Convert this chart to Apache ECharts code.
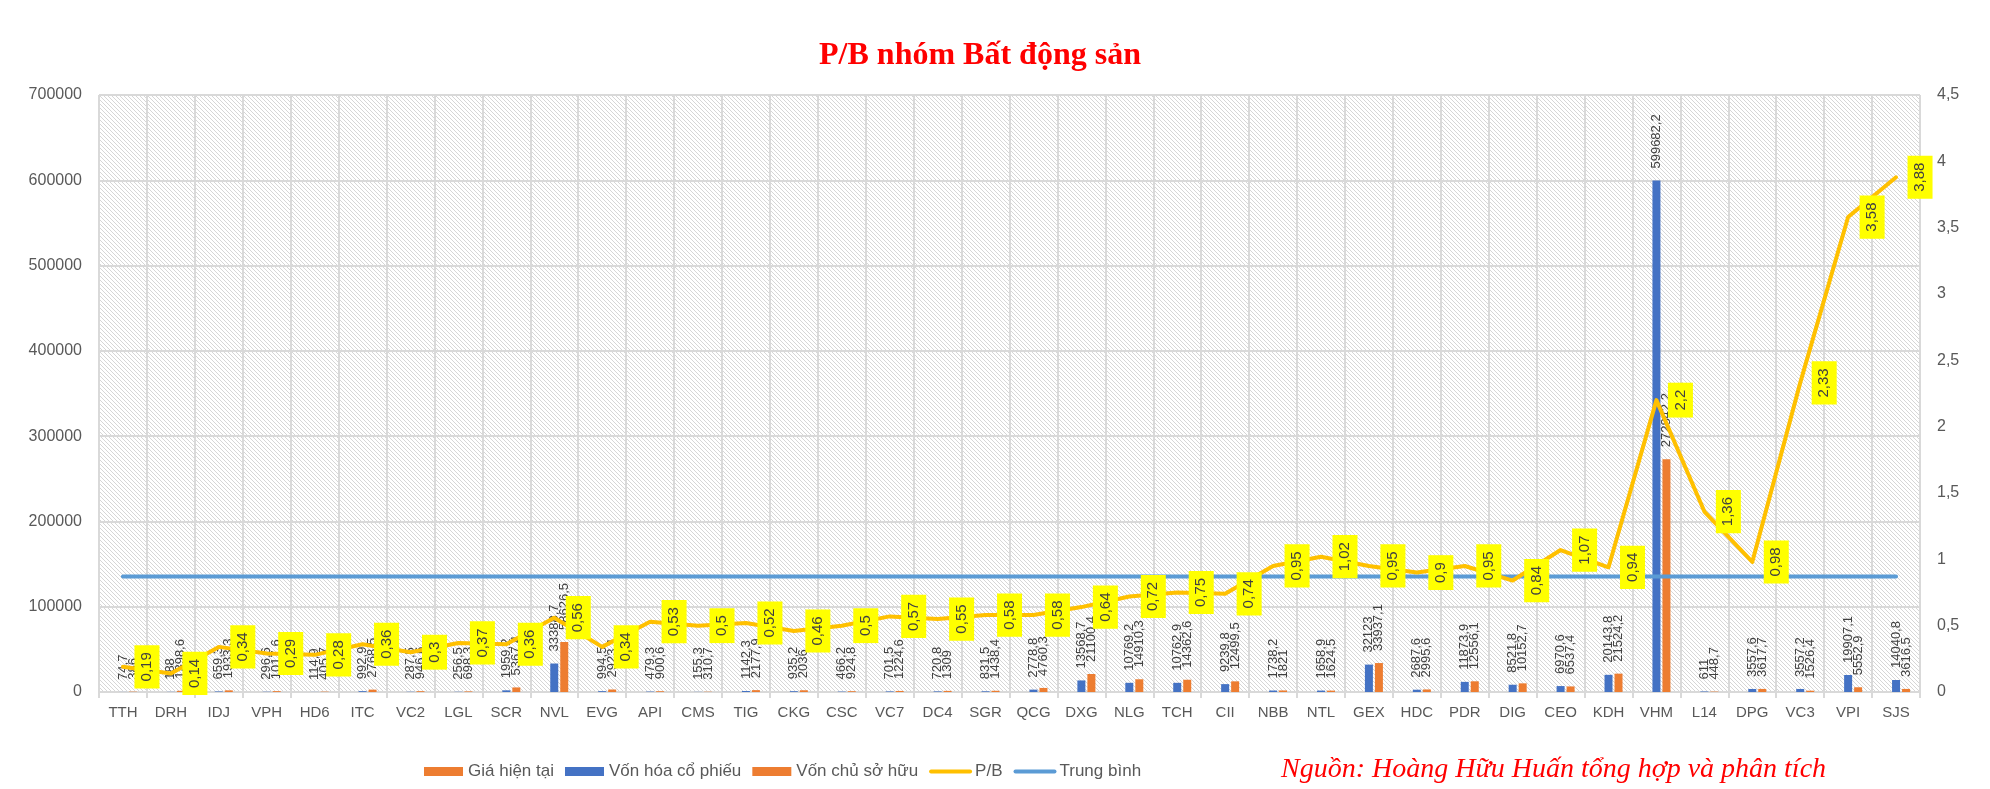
<!DOCTYPE html>
<html>
<head>
<meta charset="utf-8">
<title>P/B nhóm Bất động sản</title>
<script src="https://cdn.jsdelivr.net/npm/echarts@6/dist/echarts.min.js"></script>
<style>
  html, body { margin: 0; padding: 0; background: #fff; }
  #chart { width: 1990px; height: 789px; }
</style>
</head>
<body>
<div id="chart"></div>
<script>
const categories = [
  "TTH", "DRH", "IDJ", "VPH", "HD6", "ITC", "VC2", "LGL", "SCR", "NVL",
  "EVG", "API", "CMS", "TIG", "CKG", "CSC", "VC7", "DC4", "SGR", "QCG",
  "DXG", "NLG", "TCH", "CII", "NBB", "NTL", "GEX", "HDC", "PDR", "DIG",
  "CEO", "KDH", "VHM", "L14", "DPG", "VC3", "VPI", "SJS",
];

// Giá hiện tại: too small to read on the chart
const giaHienTai = [];

const vonHoa = [
  74.7, 188, 659.3, 296.6, 114.9, 992.9, 287.5, 256.5, 1959.2, 33388.7,
  994.5, 479.3, 155.3, 1142.3, 935.2, 466.2, 701.5, 720.8, 831.5, 2778.8,
  13568.7, 10769.2, 10762.9, 9239.8, 1738.2, 1658.9, 32123, 2687.6, 11873.9, 8521.8,
  6970.6, 20143.8, 599682.2, 611, 3557.6, 3557.2, 19907.1, 14040.8,
];

const vonChuSoHuu = [
  386, 1398.6, 1933.3, 1017.6, 405.7, 2768.5, 946.6, 698.3, 5367.4, 58626.5,
  2923.1, 900.6, 310.7, 2177.9, 2036, 924.8, 1224.6, 1309, 1438.4, 4760.3,
  21100.4, 14910.3, 14362.6, 12499.5, 1821, 1624.5, 33937.1, 2995.6, 12556.1, 10152.7,
  6537.4, 21524.2, 272842.2, 448.7, 3617.7, 1526.4, 5552.9, 3616.5,
];

const pb = [
  0.19, 0.14, 0.34, 0.29, 0.28, 0.36, 0.3, 0.37, 0.36, 0.56,
  0.34, 0.53, 0.5, 0.52, 0.46, 0.5, 0.57, 0.55, 0.58, 0.58,
  0.64, 0.72, 0.75, 0.74, 0.95, 1.02, 0.95, 0.9, 0.95, 0.84,
  1.07, 0.94, 2.2, 1.36, 0.98, 2.33, 3.58, 3.88,
];

const trungBinh = [
  0.87, 0.87, 0.87, 0.87, 0.87, 0.87, 0.87, 0.87, 0.87, 0.87,
  0.87, 0.87, 0.87, 0.87, 0.87, 0.87, 0.87, 0.87, 0.87, 0.87,
  0.87, 0.87, 0.87, 0.87, 0.87, 0.87, 0.87, 0.87, 0.87, 0.87,
  0.87, 0.87, 0.87, 0.87, 0.87, 0.87, 0.87, 0.87,
];

const textColor = "#595959";
const gridColor = "#d9d9d9";
const sans = "'Liberation Sans', Arial, sans-serif";
const serif = "'Liberation Serif', 'Times New Roman', serif";

const comma = (value) => String(value).replace(".", ",");

function hatchPattern() {
  const tile = document.createElement("canvas");
  tile.width = 4;
  tile.height = 4;
  const ctx = tile.getContext("2d");
  ctx.fillStyle = "#ffffff";
  ctx.fillRect(0, 0, 4, 4);
  ctx.fillStyle = "#d6d6d6";
  for (let i = 0; i < 4; i++) {
    ctx.fillRect(i, i, 1, 1);
  }
  return { image: tile, repeat: "repeat" };
}

const barLabel = {
  show: true,
  position: "top",
  distance: 12,
  rotate: 90,
  align: "left",
  verticalAlign: "middle",
  color: "#404040",
  fontSize: 13,
  fontFamily: sans,
  formatter: ({ value }) => comma(value),
};

const chart = echarts.init(document.getElementById("chart"), null, { renderer: "canvas" });

chart.setOption({
  animation: false,
  textStyle: { fontFamily: sans },
  title: [
    {
      text: "P/B nhóm Bất động sản",
      left: 975,
      top: 35,
      textAlign: "center",
      textStyle: { color: "#ff0000", fontFamily: serif, fontWeight: "bold", fontSize: 32 },
    },
    {
      text: "Nguồn: Hoàng Hữu Huấn tổng hợp và phân tích",
      left: 1276,
      top: 751,
      textStyle: { color: "#ff0000", fontFamily: serif, fontStyle: "italic", fontWeight: "normal", fontSize: 28 },
    },
  ],
  legend: {
    left: 419,
    top: 758,
    itemWidth: 39,
    itemHeight: 9,
    itemGap: 11,
    textStyle: { color: textColor, fontSize: 17, fontFamily: sans },
    data: [
      { name: "Giá hiện tại", icon: "rect" },
      { name: "Vốn hóa cổ phiếu", icon: "rect" },
      { name: "Vốn chủ sở hữu", icon: "rect" },
      { name: "P/B", itemStyle: { opacity: 0 }, lineStyle: { width: 4, cap: "round" } },
      { name: "Trung bình", itemStyle: { opacity: 0 }, lineStyle: { width: 4, cap: "round" } },
    ],
  },
  grid: {
    left: 99,
    right: 70,
    top: 95,
    bottom: 97,
    show: true,
    borderWidth: 0,
    backgroundColor: hatchPattern(),
  },
  xAxis: {
    type: "category",
    data: categories,
    axisLine: { lineStyle: { color: gridColor, width: 2 } },
    axisTick: { show: true, length: 6, lineStyle: { color: gridColor, width: 2 } },
    splitLine: { show: true, lineStyle: { color: gridColor, width: 2 } },
    axisLabel: { interval: 0, color: textColor, fontSize: 15, margin: 13 },
  },
  yAxis: [
    {
      type: "value",
      min: 0,
      max: 700000,
      interval: 100000,
      axisLine: { show: false },
      axisTick: { show: false },
      splitLine: { lineStyle: { color: gridColor, width: 2 } },
      axisLabel: { color: textColor, fontSize: 16, margin: 17, formatter: (v) => String(v) },
    },
    {
      type: "value",
      min: 0,
      max: 4.5,
      interval: 0.5,
      axisLine: { show: false },
      axisTick: { show: false },
      splitLine: { show: false },
      axisLabel: { color: textColor, fontSize: 16, margin: 17, formatter: (v) => comma(v) },
    },
  ],
  series: [
    {
      name: "Giá hiện tại",
      type: "bar",
      data: giaHienTai,
      barWidth: 8,
      barGap: "25%",
      itemStyle: { color: "#ED7D31" },
    },
    {
      name: "Vốn hóa cổ phiếu",
      type: "bar",
      data: vonHoa,
      barWidth: 8,
      barGap: "25%",
      itemStyle: { color: "#4472C4" },
      label: barLabel,
    },
    {
      name: "Vốn chủ sở hữu",
      type: "bar",
      data: vonChuSoHuu,
      barWidth: 8,
      barGap: "25%",
      itemStyle: { color: "#ED7D31" },
      label: barLabel,
    },
    {
      name: "Trung bình",
      type: "line",
      yAxisIndex: 1,
      data: trungBinh,
      symbol: "none",
      lineStyle: { color: "#5B9BD5", width: 4, cap: "round" },
      itemStyle: { color: "#5B9BD5" },
    },
    {
      name: "P/B",
      type: "line",
      yAxisIndex: 1,
      data: pb,
      smooth: false,
      symbol: "circle",
      symbolSize: 1,
      lineStyle: { color: "#FFC000", width: 4, cap: "round", join: "round" },
      itemStyle: { color: "#FFC000" },
      z: 3,
      label: {
        show: true,
        position: "right",
        distance: 11,
        rotate: 90,
        align: "center",
        verticalAlign: "top",
        backgroundColor: "#FFFF00",
        padding: [5, 7],
        color: "#404040",
        fontSize: 15,
        fontFamily: sans,
        formatter: ({ value }) => comma(value),
      },
    },
  ],
});
</script>
</body>
</html>
